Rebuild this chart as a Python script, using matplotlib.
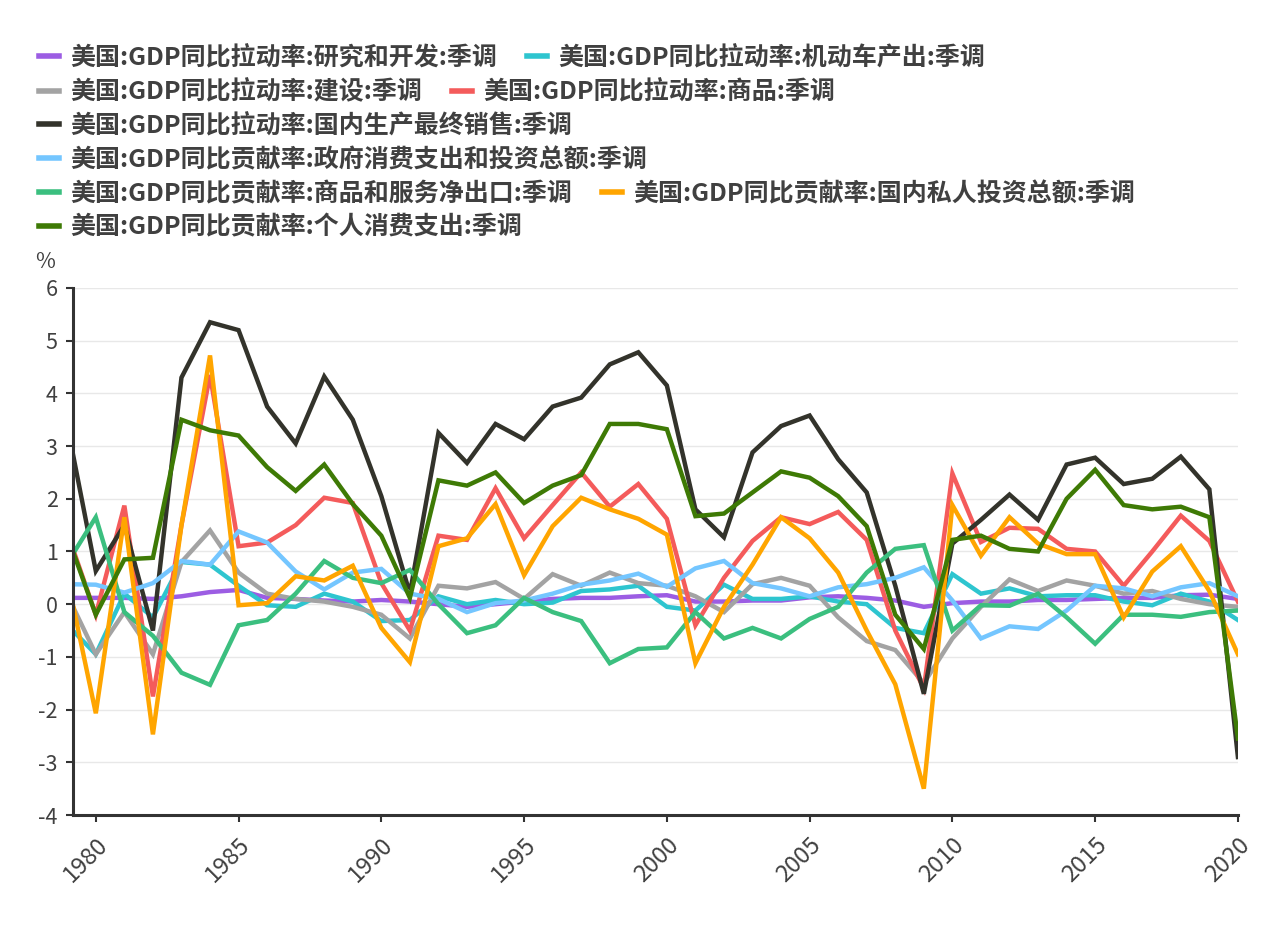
import matplotlib.pyplot as plt
from matplotlib.lines import Line2D

plt.rcParams['font.family'] = ['Noto Sans CJK SC', 'DejaVu Sans']
plt.rcParams['axes.unicode_minus'] = False

years = list(range(1979, 2021))

# 拉动率 series
rd = [0.12, 0.12, 0.12, 0.10, 0.15, 0.23, 0.27, 0.12, 0.10, 0.07, 0.05, 0.08, 0.05, 0.00,
      -0.05, 0.00, 0.05, 0.10, 0.12, 0.12, 0.15, 0.17, 0.05, 0.05, 0.07, 0.07, 0.13, 0.15,
      0.12, 0.07, -0.05, 0.02, 0.05, 0.05, 0.08, 0.08, 0.10, 0.12, 0.12, 0.17, 0.18, 0.10]
motor = [-0.39, -0.95, 0.20, -0.25, 0.80, 0.75, 0.35, -0.02, -0.05, 0.20, 0.05, -0.32, -0.30, 0.15,
         0.00, 0.08, 0.00, 0.03, 0.25, 0.28, 0.35, -0.05, -0.12, 0.37, 0.10, 0.10, 0.15, 0.05,
         0.00, -0.45, -0.55, 0.57, 0.20, 0.30, 0.15, 0.17, 0.17, 0.05, -0.02, 0.20, 0.05, -0.30]
construction = [0.18, -0.95, -0.15, -0.95, 0.80, 1.40, 0.60, 0.20, 0.10, 0.05, -0.05, -0.20, -0.65, 0.35,
                0.30, 0.42, 0.10, 0.57, 0.35, 0.60, 0.40, 0.35, 0.15, -0.15, 0.38, 0.50, 0.35, -0.25,
                -0.70, -0.87, -1.50, -0.65, -0.05, 0.47, 0.25, 0.45, 0.35, 0.20, 0.25, 0.10, 0.00, -0.05]
goods = [1.36, -0.20, 1.87, -1.75, 1.50, 4.35, 1.10, 1.17, 1.50, 2.02, 1.92, 0.40, -0.50, 1.30,
         1.22, 2.20, 1.25, 1.88, 2.50, 1.85, 2.28, 1.62, -0.40, 0.50, 1.20, 1.65, 1.52, 1.75,
         1.22, -0.50, -1.60, 2.48, 1.18, 1.45, 1.43, 1.05, 1.00, 0.35, 1.00, 1.68, 1.20, 0.05]
final_sales = [3.40, 0.63, 1.50, -0.50, 4.30, 5.35, 5.20, 3.75, 3.05, 4.32, 3.50, 2.05, 0.20, 3.25,
               2.68, 3.42, 3.13, 3.75, 3.92, 4.55, 4.78, 4.15, 1.80, 1.27, 2.88, 3.38, 3.58, 2.75,
               2.12, 0.35, -1.70, 1.15, 1.60, 2.08, 1.60, 2.65, 2.78, 2.28, 2.38, 2.80, 2.18, -2.90]

# 贡献率 series
government = [0.38, 0.37, 0.22, 0.40, 0.82, 0.75, 1.38, 1.17, 0.62, 0.28, 0.60, 0.67, 0.20, 0.10,
              -0.15, 0.02, 0.07, 0.20, 0.37, 0.45, 0.58, 0.33, 0.68, 0.82, 0.40, 0.30, 0.15, 0.32,
              0.38, 0.50, 0.70, 0.07, -0.65, -0.42, -0.47, -0.12, 0.35, 0.30, 0.15, 0.32, 0.40, 0.15]
net_exports = [0.78, 1.65, -0.15, -0.60, -1.30, -1.53, -0.40, -0.30, 0.20, 0.82, 0.50, 0.40, 0.65, 0.00,
               -0.55, -0.40, 0.12, -0.15, -0.32, -1.12, -0.85, -0.82, -0.15, -0.65, -0.45, -0.65, -0.28, -0.05,
               0.60, 1.05, 1.12, -0.50, -0.02, -0.03, 0.20, -0.25, -0.75, -0.20, -0.20, -0.24, -0.15, -0.12]
private_inv = [0.50, -2.07, 1.65, -2.47, 1.50, 4.72, -0.02, 0.02, 0.53, 0.45, 0.73, -0.45, -1.10, 1.10,
               1.25, 1.90, 0.55, 1.48, 2.02, 1.80, 1.62, 1.32, -1.12, -0.05, 0.75, 1.65, 1.25, 0.60,
               -0.50, -1.52, -3.50, 1.88, 0.92, 1.65, 1.15, 0.95, 0.95, -0.25, 0.62, 1.10, 0.25, -0.95]
consumption = [1.30, -0.20, 0.85, 0.88, 3.50, 3.30, 3.20, 2.60, 2.15, 2.65, 1.90, 1.30, 0.12, 2.35,
               2.25, 2.50, 1.92, 2.25, 2.45, 3.42, 3.42, 3.32, 1.67, 1.72, 2.12, 2.52, 2.40, 2.05,
               1.48, -0.20, -0.85, 1.22, 1.30, 1.05, 1.00, 2.00, 2.55, 1.88, 1.80, 1.85, 1.65, -2.55]

labels = ['美国:GDP同比拉动率:研究和开发:季调', '美国:GDP同比拉动率:机动车产出:季调',
          '美国:GDP同比拉动率:建设:季调', '美国:GDP同比拉动率:商品:季调',
          '美国:GDP同比拉动率:国内生产最终销售:季调',
          '美国:GDP同比贡献率:政府消费支出和投资总额:季调',
          '美国:GDP同比贡献率:商品和服务净出口:季调', '美国:GDP同比贡献率:国内私人投资总额:季调',
          '美国:GDP同比贡献率:个人消费支出:季调']
series = [rd, motor, construction, goods, final_sales, government, net_exports, private_inv, consumption]
colors = ['#9c5de3', '#2ec5cf', '#a3a3a3', '#f45b5b', '#33332b', '#74c6ff', '#3bbf7f', '#ffa500', '#3e7a05']

fig = plt.figure(figsize=(12.69, 9.52), dpi=100)
ax = fig.add_axes([0.0575, 0.1439, 0.918, 0.5536])

for vals, c in zip(series, colors):
    ax.plot(years, vals, color=c, linewidth=3.2, solid_joinstyle='miter')

ax.set_xlim(1979.2, 2020)
ax.set_ylim(-4, 6)
ax.set_yticks(range(-4, 7))
ax.set_xticks(range(1980, 2021, 5))
ax.set_xticklabels([str(y) for y in range(1980, 2021, 5)], rotation=45, ha='right',
                   va='top', rotation_mode='anchor')
ax.grid(axis='y', color='#e8e8e8', linewidth=1)
ax.set_axisbelow(True)
for s in ['top', 'right']:
    ax.spines[s].set_visible(False)
for s in ['left', 'bottom']:
    ax.spines[s].set_linewidth(2.2)
    ax.spines[s].set_color('#333333')
ax.tick_params(axis='both', labelsize=15.5, labelcolor='#404040', color='#333333',
               width=1.5, length=5)
ax.tick_params(axis='y', pad=6)
ax.tick_params(axis='x', pad=8, labelsize=17)
fig.text(0.028, 0.718, '%', fontsize=15.5, color='#404040')

# legend rows
rows = [[0, 1], [2, 3], [4], [5], [6, 7], [8]]
row_y = 0.952
for r in rows:
    handles = [Line2D([], [], color=colors[i], linewidth=4) for i in r]
    fig.legend(handles, [labels[i] for i in r], loc='upper left', bbox_to_anchor=(0.031, row_y),
               ncol=len(r), frameon=False, handlelength=0.8, handletextpad=0.45, columnspacing=1.2,
               borderaxespad=0, borderpad=0,
               prop={'size': 18, 'weight': 'bold', 'family': ['Noto Sans CJK SC', 'DejaVu Sans']},
               labelcolor='#404040')
    row_y -= 0.0357

fig.savefig('out.png', dpi=100)
